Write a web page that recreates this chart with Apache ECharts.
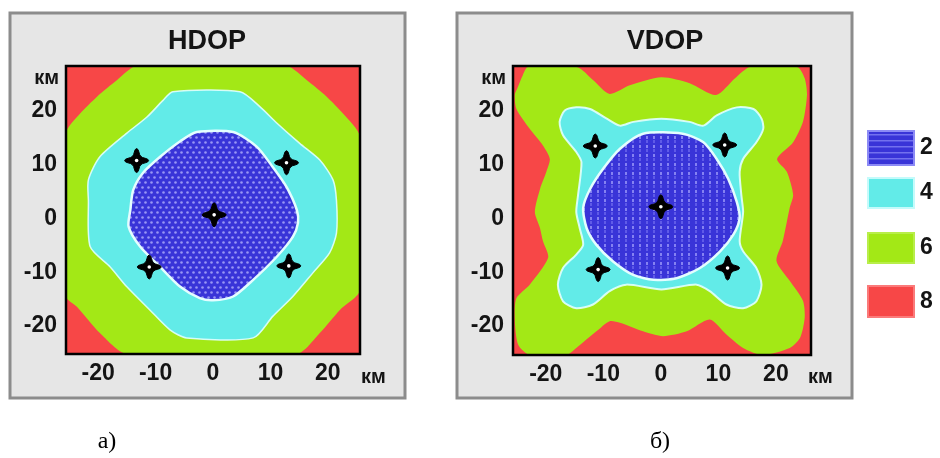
<!DOCTYPE html>
<html>
<head>
<meta charset="utf-8">
<script src="https://cdn.jsdelivr.net/npm/echarts@6/dist/echarts.min.js"></script>
<style>
  html, body { margin: 0; padding: 0; background: #ffffff; }
  #chart { width: 940px; height: 458px; }
</style>
</head>
<body>
<div id="chart"></div>
<script>
// ---- data (km) ----
const tickValues = [-20, -10, 0, 10, 20];
const levelLabels = ['2', '4', '6', '8'];

// receiver stations
const hdopStations = [[-13.3, 10.8], [12.8, 10.4], [0.2, 0.7], [-11.1, -9.0], [13.2, -8.8]];
const vdopStations = [[-11.4, 13.5], [11.1, 13.7], [0.0, 2.2], [-10.9, -9.5], [11.6, -9.2]];

// HDOP contour boundaries (outside the level-6 line the field is red)
const hdopContour6 = [[-13.3, 28.4], [12.8, 28.4], [16.3, 25.8], [19.8, 22.7], [22.6, 19.6], [25.6, 15.2],
  [25.6, -13.3], [22.1, -17.0], [18.6, -21.3], [14.6, -25.2], [-15.0, -25.2], [-19.7, -21.3],
  [-23.7, -16.4], [-25.6, -14.5], [-25.6, 15.9], [-23.1, 19.6], [-20.2, 22.7], [-16.7, 25.8]];
const hdopContour4 = [[-7.0, 23.6], [4.7, 23.6], [8.2, 20.8], [11.1, 17.8], [15.1, 14.0], [18.6, 10.9],
  [20.9, 7.2], [21.5, 3.4], [21.5, -2.7], [20.3, -6.4], [17.4, -10.1], [13.9, -14.5], [10.4, -18.2],
  [7.0, -22.2], [-4.6, -22.2], [-7.5, -20.7], [-11.0, -17.0], [-15.0, -12.7], [-17.9, -9.0],
  [-21.4, -5.2], [-21.7, 3.4], [-21.7, 7.2], [-19.7, 11.5], [-15.0, 15.9], [-11.5, 18.9], [-8.7, 22.0]];
const hdopContour2 = [[-2.8, 16.1], [3.5, 16.1], [7.6, 13.4], [10.4, 9.6], [12.8, 5.9], [14.6, 1.6],
  [14.8, -0.8], [13.9, -3.4], [11.1, -7.1], [7.0, -11.4], [3.5, -14.5], [0.0, -15.2], [-2.3, -14.8],
  [-5.7, -12.7], [-9.2, -9.0], [-12.7, -5.2], [-14.7, -1.5], [-14.4, 1.6], [-13.9, 5.3], [-12.2, 8.5],
  [-9.2, 11.5], [-5.7, 14.4]];

// VDOP contour boundaries
const vdopContour6 = [[-23.1, 28.2], [-14.6, 28.2], [-11.8, 25.8], [-8.9, 23.2], [-5.4, 24.8], [0.1, 26.3],
  [5.0, 25.2], [9.6, 23.0], [12.9, 26.1], [15.5, 28.2], [23.7, 28.2], [25.0, 26.1], [25.4, 23.0],
  [24.7, 18.0], [23.0, 14.2], [20.2, 11.1], [21.9, 8.7], [23.0, 4.4], [22.4, 2.0], [21.2, -4.2],
  [20.1, -7.9], [22.4, -11.6], [24.7, -15.3], [25.0, -18.5], [24.2, -22.2], [22.4, -24.1], [17.7, -25.4],
  [14.3, -24.1], [11.4, -21.6], [8.5, -18.8], [4.5, -21.0], [0.4, -21.9], [-3.1, -21.0], [-7.1, -19.4],
  [-8.9, -19.1], [-11.2, -21.0], [-14.7, -24.1], [-16.4, -25.4], [-22.8, -25.4], [-24.8, -23.5],
  [-25.4, -18.5], [-25.1, -14.8], [-22.8, -12.3], [-19.6, -7.3], [-20.5, -4.2], [-21.0, -1.8],
  [-21.9, 1.2], [-21.0, 5.5], [-19.9, 8.7], [-19.3, 11.1], [-20.5, 13.6], [-22.8, 16.7], [-25.1, 20.4],
  [-25.4, 23.0], [-25.0, 24.1], [-24.0, 26.7]];
const vdopContour4 = [[-17.6, 18.0], [-16.7, 20.1], [-14.7, 20.7], [-12.3, 20.4], [-9.4, 18.6], [-7.1, 17.3],
  [-4.8, 18.0], [0.1, 18.6], [5.0, 18.0], [7.4, 17.3], [9.7, 19.2], [13.2, 20.7], [16.1, 20.4],
  [17.5, 18.6], [17.8, 16.7], [16.6, 14.2], [14.3, 11.1], [13.7, 8.7], [14.0, 4.3], [14.3, 1.2],
  [13.7, -4.2], [14.3, -6.1], [16.6, -9.2], [17.5, -12.3], [16.6, -15.4], [14.3, -16.7], [11.4, -16.0],
  [8.5, -13.5], [6.2, -12.3], [0.1, -13.2], [-6.0, -12.3], [-8.9, -13.5], [-11.8, -16.0], [-14.7, -16.7],
  [-17.0, -15.4], [-17.9, -12.3], [-17.0, -9.2], [-14.7, -6.7], [-13.5, -4.9], [-14.1, -1.8],
  [-14.7, 1.2], [-14.4, 4.3], [-13.8, 10.5], [-14.7, 12.4], [-17.0, 15.5]];
const vdopContour2 = [[-3.1, 15.8], [3.8, 15.8], [7.4, 14.2], [9.7, 11.1], [11.7, 7.4], [13.2, 3.1],
  [13.7, 0.1], [12.6, -3.0], [10.3, -6.1], [6.8, -9.2], [2.7, -11.1], [-1.3, -11.4], [-4.8, -10.5],
  [-8.3, -8.0], [-11.2, -4.9], [-12.9, -1.8], [-13.5, 2.0], [-12.3, 5.5], [-10.0, 9.3], [-7.1, 13.0]];

// ---- styling ----
const COL = { red: '#f74747', green: '#a3e816', cyan: '#62ebe8', blue: '#3934d8' };
const FONT = 'Liberation Sans, Arial, sans-serif';

function pattern(w, h, base, draw) {
  const c = document.createElement('canvas');
  c.width = w; c.height = h;
  const g = c.getContext('2d');
  g.fillStyle = base; g.fillRect(0, 0, w, h);
  draw(g);
  return { image: c, repeat: 'repeat' };
}
// staggered dots inside the HDOP core
const dotFill = pattern(6, 10, COL.blue, g => {
  g.fillStyle = '#9896f4';
  g.beginPath(); g.arc(1.5, 2.5, 1.3, 0, Math.PI * 2); g.fill();
  g.beginPath(); g.arc(4.5, 7.5, 1.3, 0, Math.PI * 2); g.fill();
});
// cell grid inside the VDOP core
const cellFill = pattern(7, 9, COL.blue, g => {
  g.fillStyle = '#8582f2'; g.fillRect(2, 1, 2, 3);
  g.fillStyle = '#5f5ae8'; g.fillRect(2, 5, 2, 3);
});
// horizontal stripes for the legend swatch
const stripeFill = pattern(6, 6, COL.blue, g => {
  g.fillStyle = '#7371ee'; g.fillRect(0, 2, 6, 1.5);
});

const grids = [
  { left: 66, top: 66, width: 294, height: 288 },
  { left: 513, top: 66, width: 298, height: 289 }
];
const xRanges = [[-25.6, 25.6], [-25.7, 26.1]];
const yRanges = [[-25.2, 28.4], [-25.4, 28.4]];

function polygonSeries(points, idx, fill, stroke, lineWidth, z) {
  return {
    type: 'custom', coordinateSystem: 'cartesian2d',
    xAxisIndex: idx, yAxisIndex: idx, clip: true, silent: true, z: z,
    data: points,
    renderItem(params, api) {
      if (params.dataIndex !== 0) return null;
      return {
        type: 'polygon',
        shape: { points: points.map(p => api.coord(p)), smooth: 0.25 },
        style: { fill: fill, stroke: stroke, lineWidth: lineWidth }
      };
    }
  };
}

// four-pointed station marker: one quarter outline, rotated four times
const STAR_QUARTER = [[0, -12], [1.4, -11], [2.3, -8.5], [3, -6], [4.2, -4.2], [6, -3], [8.5, -2.3], [11, -1.4]];
const STAR = [];
[0, 1, 2, 3].forEach(q => {
  STAR_QUARTER.forEach(([x, y]) => {
    STAR.push([[x, y], [-y, x], [-x, -y], [y, -x]][q]);
  });
});

function stationSeries(points, idx) {
  return {
    type: 'custom', coordinateSystem: 'cartesian2d',
    xAxisIndex: idx, yAxisIndex: idx, silent: true, z: 10,
    data: points,
    renderItem(params, api) {
      const c = api.coord([api.value(0), api.value(1)]);
      return {
        type: 'group', x: c[0], y: c[1],
        children: [
          { type: 'polygon', shape: { points: STAR }, style: { fill: '#000', stroke: '#000', lineWidth: 1 } },
          { type: 'circle', shape: { cx: 0, cy: 0, r: 5.2 }, style: { fill: '#000' } },
          { type: 'circle', shape: { cx: 0, cy: 0, r: 1.8 }, style: { fill: '#fff' } }
        ]
      };
    }
  };
}

function makeAxis(dim, idx) {
  const r = dim === 'x' ? xRanges[idx] : yRanges[idx];
  return {
    type: 'value', gridIndex: idx, min: r[0], max: r[1],
    position: dim === 'x' ? 'bottom' : 'left',
    axisLine: { show: false },
    splitLine: { show: false },
    axisTick: { show: true, inside: false, length: 7, customValues: tickValues,
      lineStyle: { color: '#222', width: 1.5 } },
    axisLabel: { customValues: tickValues, margin: dim === 'x' ? 8 : 9,
      color: '#141414', fontSize: 23, fontWeight: 'bold', fontFamily: FONT }
  };
}

const chart = echarts.init(document.getElementById('chart'), null, { renderer: 'canvas' });

const graphics = [];
// panel frames
[[10, 13, 395, 385], [457, 13, 395, 385]].forEach(([x, y, w, h]) => {
  graphics.push({ type: 'rect', z: -10, shape: { x, y, width: w, height: h },
    style: { fill: '#e6e6e6', stroke: '#8c8c8c', lineWidth: 3 } });
});
// plot outlines on top of the field
grids.forEach(g => {
  graphics.push({ type: 'rect', z: 50, shape: { x: g.left, y: g.top, width: g.width, height: g.height },
    style: { fill: null, stroke: '#000', lineWidth: 2.5 } });
});
// unit labels
const unitStyle = { text: 'км', fill: '#141414', font: 'bold 20px ' + FONT };
graphics.push({ type: 'text', z: 50, x: 59, y: 78, style: Object.assign({}, unitStyle, { align: 'right', verticalAlign: 'middle' }) });
graphics.push({ type: 'text', z: 50, x: 506, y: 78, style: Object.assign({}, unitStyle, { align: 'right', verticalAlign: 'middle' }) });
graphics.push({ type: 'text', z: 50, x: 361, y: 377, style: Object.assign({}, unitStyle, { align: 'left', verticalAlign: 'middle' }) });
graphics.push({ type: 'text', z: 50, x: 808, y: 377, style: Object.assign({}, unitStyle, { align: 'left', verticalAlign: 'middle' }) });

// legend swatches
const swatchFills = [stripeFill, COL.cyan, COL.green, COL.red];
const swatchStrokes = ['#8c8af5', '#c4fbfb', '#b8ee4a', '#fb7a7a'];
const swatchBoxes = [[868, 131, 46, 34], [868, 178, 46, 30], [868, 233, 46, 30], [868, 286, 46, 31]];
levelLabels.forEach((lab, i) => {
  const [x, y, w, h] = swatchBoxes[i];
  graphics.push({ type: 'rect', shape: { x, y, width: w, height: h },
    style: { fill: swatchFills[i], stroke: swatchStrokes[i], lineWidth: 2 } });
  graphics.push({ type: 'text', x: 920, y: y + h / 2, style: { text: lab, fill: '#141414',
    font: 'bold 23px ' + FONT, align: 'left', verticalAlign: 'middle' } });
});
// captions
graphics.push({ type: 'text', x: 107, y: 442, style: { text: 'а)', fill: '#000',
  font: '24px Liberation Serif, Times New Roman, serif', align: 'center', verticalAlign: 'middle' } });
graphics.push({ type: 'text', x: 660, y: 442, style: { text: 'б)', fill: '#000',
  font: '24px Liberation Serif, Times New Roman, serif', align: 'center', verticalAlign: 'middle' } });

chart.setOption({
  animation: false,
  backgroundColor: '#ffffff',
  title: [
    { text: 'HDOP', left: 202, top: 23, textAlign: 'center',
      textStyle: { fontSize: 27, fontWeight: 'bold', color: '#141414', fontFamily: FONT } },
    { text: 'VDOP', left: 660, top: 23, textAlign: 'center',
      textStyle: { fontSize: 27, fontWeight: 'bold', color: '#141414', fontFamily: FONT } }
  ],
  grid: grids.map(g => Object.assign({ show: true, backgroundColor: COL.red, borderWidth: 0 }, g)),
  xAxis: [makeAxis('x', 0), makeAxis('x', 1)],
  yAxis: [makeAxis('y', 0), makeAxis('y', 1)],
  graphic: graphics,
  series: [
    polygonSeries(hdopContour6, 0, COL.green, null, 0, 1),
    polygonSeries(hdopContour4, 0, COL.cyan, 'rgba(225,255,255,0.9)', 1.5, 2),
    polygonSeries(hdopContour2, 0, dotFill, '#e4fdff', 2.5, 3),
    stationSeries(hdopStations, 0),
    polygonSeries(vdopContour6, 1, COL.green, null, 0, 1),
    polygonSeries(vdopContour4, 1, COL.cyan, 'rgba(225,255,255,0.9)', 2, 2),
    polygonSeries(vdopContour2, 1, cellFill, '#e4fdff', 2.5, 3),
    stationSeries(vdopStations, 1)
  ]
});
</script>
</body>
</html>
